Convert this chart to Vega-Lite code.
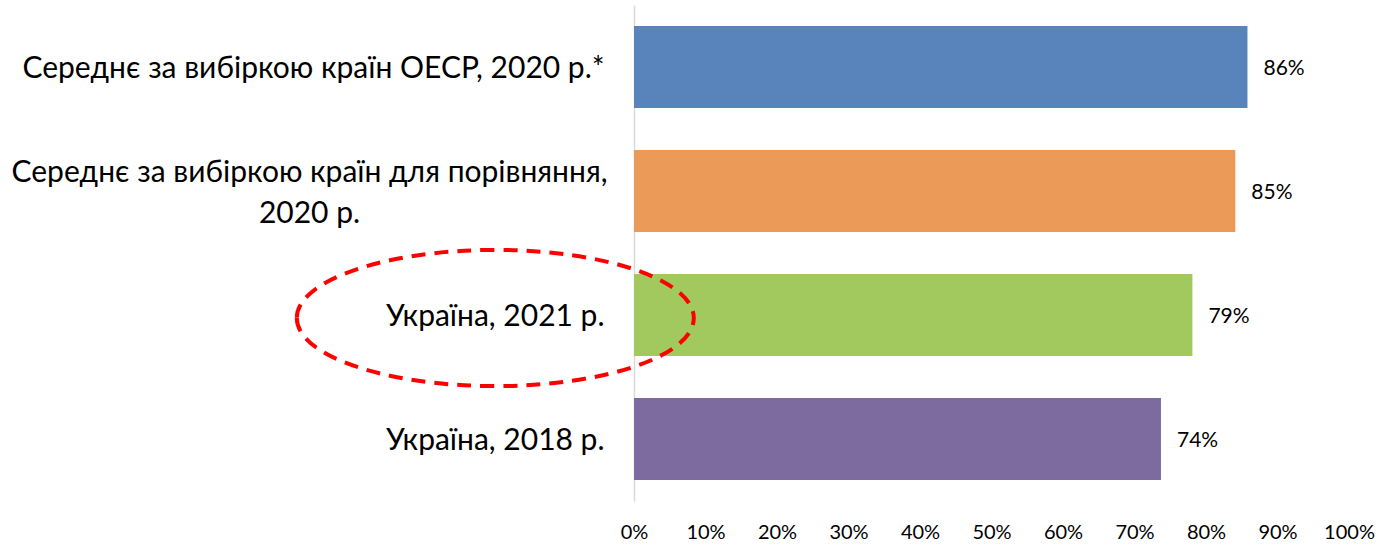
{
  "$schema": "https://vega.github.io/schema/vega-lite/v6.json",
  "width": 715,
  "height": 496,
  "autosize": {"type": "none"},
  "padding": {"left": 634, "top": 5, "right": 50, "bottom": 44},
  "background": "white",
  "config": {"view": {"stroke": null}, "font": "Lato"},
  "data": {"values": [
    {"category": "Середнє за вибіркою країн ОЕСР, 2020 р.*", "value": 85.8, "label": "86%"},
    {"category": "Середнє за вибіркою країн для порівняння, 2020 р.", "value": 84.1, "label": "85%"},
    {"category": "Україна, 2021 р.", "value": 78.1, "label": "79%"},
    {"category": "Україна, 2018 р.", "value": 73.7, "label": "74%"}
  ]},
  "encoding": {
    "y": {
      "field": "category",
      "type": "nominal",
      "sort": null,
      "scale": {
        "domain": ["Середнє за вибіркою країн ОЕСР, 2020 р.*", "Середнє за вибіркою країн для порівняння, 2020 р.", "Україна, 2021 р.", "Україна, 2018 р."],
        "paddingInner": 0.34,
        "paddingOuter": 0.17
      },
      "axis": {
        "title": null,
        "domain": true,
        "domainColor": "#d9d9d9",
        "domainWidth": 1.5,
        "ticks": false,
        "labelFontSize": 30,
        "labelColor": "#000000",
        "labelPadding": {"condition": {"test": "datum.value == 'Середнє за вибіркою країн для порівняння, 2020 р.'", "value": 325}, "value": 30},
        "labelAlign": {"condition": {"test": "datum.value == 'Середнє за вибіркою країн для порівняння, 2020 р.'", "value": "center"}, "value": "right"},
        "labelOffset": {"condition": {"test": "datum.value == 'Середнє за вибіркою країн для порівняння, 2020 р.'", "value": -18}, "value": 2},
        "labelLimit": 0,
        "labelLineHeight": 41,
        "labelExpr": "datum.value == 'Середнє за вибіркою країн для порівняння, 2020 р.' ? ['Середнє за вибіркою країн для порівняння,', '2020 р.'] : datum.label"
      }
    }
  },
  "layer": [
    {
      "mark": {"type": "bar"},
      "encoding": {
        "x": {
          "field": "value",
          "type": "quantitative",
          "scale": {"domain": [0, 100]},
          "axis": {
            "title": null,
            "values": [0, 10, 20, 30, 40, 50, 60, 70, 80, 90, 100],
            "labelExpr": "datum.value + '%'",
            "grid": false,
            "domain": false,
            "ticks": false,
            "labelFlush": false,
            "labelFontSize": 20,
            "labelColor": "#000000",
            "labelPadding": 21
          }
        },
        "color": {
          "field": "category",
          "type": "nominal",
          "legend": null,
          "scale": {
            "domain": ["Середнє за вибіркою країн ОЕСР, 2020 р.*", "Середнє за вибіркою країн для порівняння, 2020 р.", "Україна, 2021 р.", "Україна, 2018 р."],
            "range": ["#5884BB", "#EB9A58", "#A2C95E", "#7D6A9E"]
          }
        }
      }
    },
    {
      "mark": {"type": "text", "align": "left", "baseline": "middle", "dx": 16, "dy": 2, "fontSize": 21, "color": "#000000"},
      "encoding": {
        "x": {"field": "value", "type": "quantitative", "title": null},
        "text": {"field": "label"}
      }
    },
    {
      "data": {"values": [{"category": "Україна, 2021 р.", "ex": -19.4}]},
      "mark": {
        "type": "point",
        "shape": "M-1,0A1,0.343,0,1,0,1,0A1,0.343,0,1,0,-1,0Z",
        "size": 157609,
        "filled": false,
        "stroke": "#ff0000",
        "strokeWidth": 4,
        "strokeDash": [14, 9],
        "opacity": 1,
        "yOffset": 3
      },
      "encoding": {
        "x": {"field": "ex", "type": "quantitative", "title": null}
      }
    }
  ]
}
